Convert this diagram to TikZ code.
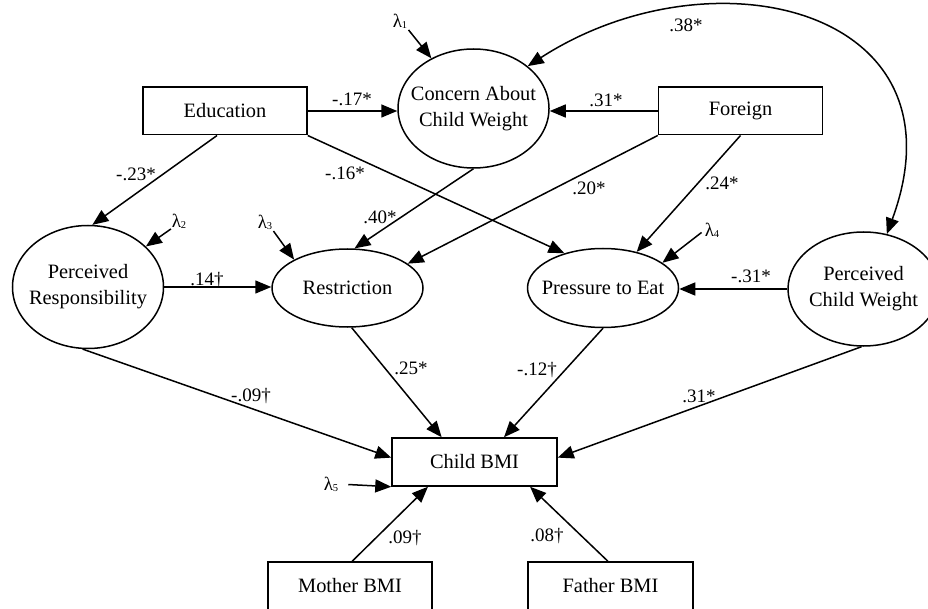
\documentclass[tikz,border=0pt]{standalone}
\usepackage{fontspec}
\setmainfont{Liberation Serif}
\usetikzlibrary{arrows.meta,shapes.geometric}
\newcommand\lamsym[1]{λ\kern-0.3pt\raisebox{-1pt}{\fontsize{10.5}{11}\selectfont #1}}
\tikzset{
  boxnode/.style={draw, line width=1.5pt, minimum width=164pt, minimum height=47.5pt,
    inner sep=0pt, font=\fontsize{20.4}{26}\selectfont},
  ellnode/.style={draw, ellipse, line width=1.5pt, inner sep=0pt, minimum width=151pt},
  elltext/.style={inner sep=0pt, align=center, font=\fontsize{20.4}{26}\selectfont},
  lbl/.style={inner sep=0pt, font=\fontsize{19}{22}\selectfont},
  lamnode/.style={inner sep=0pt, font=\fontsize{19}{22}\selectfont},
  arr/.style={line width=1.5pt, -{Triangle[length=16pt,width=13pt]}},
  dblarr/.style={line width=1.5pt, {Triangle[length=16pt,width=13pt]}-{Triangle[length=16pt,width=13pt]}},
}
\begin{document}
\begin{tikzpicture}[x=1pt,y=-1pt]
\useasboundingbox (0,0) rectangle (928,609);

% boxes
\node[boxnode] (edu) at (225,111) {Education};
\node[boxnode] (foreign) at (740.5,111) {Foreign};
\node[boxnode, minimum width=165pt, minimum height=48pt] (child) at (474.5,462) {Child BMI};
\node[boxnode, minimum height=48pt] (mother) at (350,586) {Mother BMI};
\node[boxnode, minimum width=165pt, minimum height=48pt] (father) at (610.5,586) {Father BMI};

% ellipses
\node[ellnode, minimum height=119pt,
  label={[elltext]center:Concern About\\Child Weight}] (concern) at (473.5,108.5) {};
\node[ellnode, minimum height=123pt,
  label={[elltext]center:Perceived\\Responsibility}] (pr) at (88,287) {};
\node[ellnode, minimum height=78pt,
  label={[elltext]center:Restriction}] (restr) at (347.5,288) {};
\node[ellnode, minimum height=79pt,
  label={[elltext]center:Pressure to Eat}] (press) at (603,288) {};
\node[ellnode, minimum height=114pt,
  label={[elltext]center:Perceived\\Child Weight}] (pcw) at (863.5,289) {};

% lambda nodes
\node[lamnode] (lam1) at (400,21) {\lamsym{1}};
\node[lamnode] (lam2) at (179,221) {\lamsym{2}};
\node[lamnode] (lam3) at (265,222) {\lamsym{3}};
\node[lamnode] (lam4) at (712,230) {\lamsym{4}};
\node[lamnode] (lam5) at (331,484) {\lamsym{5}};

% paths
\draw[arr] (edu.east) -- (edu.east -| concern.west);
\draw[arr] (foreign.west) -- (foreign.west -| concern.east);
\draw[dblarr] (concern.38) .. controls (712,-53) and (970,8) .. (pcw.67);
\draw[arr] (edu.252) -- (pr.86);
\draw[arr] (edu.south east) -- (press.138);
\draw[arr] (concern.south) -- (restr.80);
\draw[arr] (foreign.south west) -- (restr.22);
\draw[arr] (foreign.south) -- (press.47);
\draw[arr] (pr.east) -- (pr.east -| restr.west);
\draw[arr] (pcw.west) -- (pcw.west -| press.east);
\draw[arr] (pr.265) -- (child.177);
\draw[arr] (restr.276) -- (child.143);
\draw[arr] (press.south) -- (child.40);
\draw[arr] (pcw.268) -- (child.3.5);
\draw[arr] (mother.85) -- (child.208);
\draw[arr] (father.96) -- (child.336.6);

% lambda arrows
\draw[arr, shorten <=2pt] (lam1.south east) -- (concern.130);
\draw[arr, shorten <=1pt] (lam2.south west) -- (pr.35);
\draw[arr, shorten <=2pt] (lam3.south east) -- (restr.152);
\draw[arr, shorten <=4pt] (lam4.west) -- (press.23);
\draw[arr, shorten <=10pt] (lam5.east) -- (child.south west);

% coefficient labels
\node[lbl] (c1) at (352,99) {-.17*};
\node[lbl] (c2) at (606,100) {.31*};
\node[lbl] (c3) at (686,25) {.38*};
\node[lbl] (c4) at (136,174) {-.23*};
\node[lbl] (c5) at (345,173) {-.16*};
\node[lbl] (c6) at (380,217) {.40*};
\node[lbl] (c7) at (589,188) {.20*};
\node[lbl] (c8) at (722,183) {.24*};
\node[lbl] (c9) at (207,280) {.14†};
\node[lbl] (c10) at (751,276) {-.31*};
\node[lbl] (c11) at (251,396) {-.09†};
\node[lbl] (c12) at (411,368) {.25*};
\node[lbl] (c13) at (537,370) {-.12†};
\node[lbl] (c14) at (699,396) {.31*};
\node[lbl] (c15) at (405,538) {.09†};
\node[lbl] (c16) at (547,536) {.08†};
\end{tikzpicture}
\end{document}
